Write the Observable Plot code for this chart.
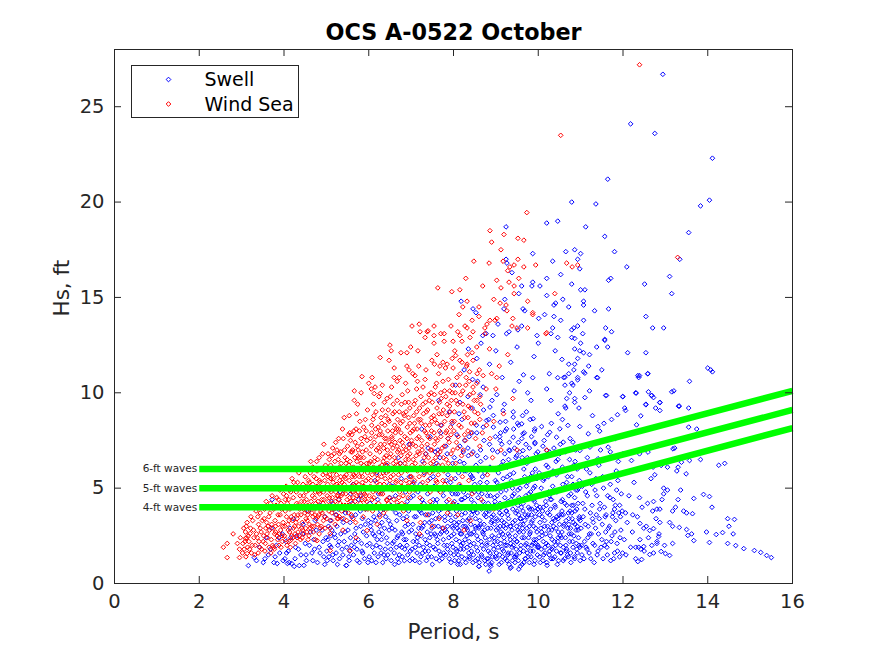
<!DOCTYPE html>
<html><head><meta charset="utf-8">
<script src="https://cdn.jsdelivr.net/npm/d3@7"></script>
<script src="https://cdn.jsdelivr.net/npm/@observablehq/plot@0.6"></script>
<style>
body{margin:0;background:#fff;}
#wrap{position:relative;width:875px;height:656px;font-family:"DejaVu Sans",sans-serif;}
#wrap svg{display:block;}
#legend{position:absolute;left:0;top:0;}
</style></head><body><div id="wrap"></div>
<script>
// ---------- data (Period s, Hs ft) ----------
const xTicks = [0, 2, 4, 6, 8, 10, 12, 14, 16];
const yTicks = [0, 5, 10, 15, 20, 25];
const seriesNames = ["Swell", "Wind Sea"];
const seriesColors = ["#0000ff", "#ff0000"];

const wavePeriods = [2, 9, 16];
const waveLabels = ["6-ft waves", "5-ft waves", "4-ft waves"];
const wave6ft = [6, 6, 10.1];
const wave5ft = [5, 5, 9.1];
const wave4ft = [4, 4, 8.15];

const swellPoints = [
[3.16,0.94],[3.3,1.36],[3.51,1.1],[3.72,4.4],[3.84,1.05],[3.35,1.2],[3.42,1.9],[3.58,2.4],[3.63,1.5],[3.7,2.9],[3.76,1.1],[3.82,2.0],[3.9,1.6],[3.96,2.6],
[3.55,1.3],[3.68,1.8],[3.79,1.4],[3.88,2.4],[3.98,1.2],[4.06,1.6],[4.16,2.4],[4.26,1.3],[4.34,1.8],[4.44,2.6],[4.52,1.5],[4.6,2.0],[4.68,1.2],[4.76,2.8],[4.85,1.6],[4.92,2.2],[4.96,1.0],[4.47,0.95],[4.72,1.8],[4.12,1.1],
[4.08,1.05],[4.24,0.9],[4.36,0.94],[4.02,1.3],[4.05,2.2],[4.1,1.7],[4.14,2.9],[4.18,1.05],[4.22,3.4],[4.27,1.9],[4.3,2.5],[4.4,1.5],[4.45,3.1],[4.5,2.1],[4.53,1.2],[4.58,3.8],[4.62,2.7],[4.66,1.6],[4.7,2.3],[4.74,3.3],[4.79,1.1],[4.83,1.9],[4.86,4.1],[4.9,2.8],[4.94,1.4],[4.97,3.5],[4.99,2.4],
[5.02,1.2],[5.05,3.0],[5.08,2.0],[5.12,4.3],[5.15,1.5],[5.19,2.6],[5.22,3.6],[5.26,1.0],[5.3,2.2],[5.33,4.8],[5.37,1.8],[5.4,3.2],[5.44,2.7],[5.47,0.95],[5.5,4.0],[5.53,1.4],[5.57,2.4],[5.6,3.5],[5.63,5.2],[5.66,1.9],[5.7,2.9],[5.73,1.2],[5.76,4.4],[5.8,3.8],[5.83,2.1],[5.86,1.6],[5.89,5.0],[5.92,3.1],[5.95,2.5],[5.98,1.1],[5.55,1.7],[5.28,3.9],[5.85,3.4],[5.1,2.5],[5.68,2.2],
[5.01,1.7],[5.03,2.3],[5.06,1.4],[5.09,3.3],[5.11,1.9],[5.13,2.8],[5.16,1.2],[5.18,3.9],[5.21,2.4],[5.23,1.6],[5.25,3.0],[5.27,2.0],[5.31,1.3],[5.34,2.6],[5.36,3.4],[5.39,1.5],[5.42,2.2],[5.45,3.7],[5.48,1.9],[5.51,2.8],[5.54,1.2],[5.56,3.2],[5.59,2.0],[5.61,4.2],[5.64,1.5],[5.67,2.6],[5.69,3.6],[5.72,1.8],[5.75,2.3],[5.78,1.1],[5.81,3.0],[5.84,1.7],[5.87,2.7],[5.9,1.3],[5.93,3.9],[5.96,2.0],[5.99,3.3],[5.29,4.4],[5.57,4.7],[5.82,4.6],
[6.01,1.4],[6.03,4.2],[6.06,2.8],[6.09,1.9],[6.12,3.5],[6.15,5.4],[6.17,1.1],[6.2,2.3],[6.23,4.7],[6.26,3.0],[6.29,1.6],[6.32,2.6],[6.35,3.9],[6.38,5.9],[6.41,1.3],[6.44,2.1],[6.47,3.3],[6.5,4.5],[6.52,1.8],[6.55,2.9],[6.58,5.1],[6.61,1.0],[6.64,3.7],[6.67,2.4],[6.7,4.1],[6.72,1.5],[6.75,6.3],[6.78,2.7],[6.81,3.4],[6.84,1.2],[6.87,4.8],[6.9,2.0],[6.93,3.1],[6.96,5.6],[6.98,1.7],[6.14,2.5],[6.36,1.5],[6.59,2.2],[6.83,2.3],[6.46,4.0],[6.68,1.3],[6.25,3.6],[6.91,4.3],[6.05,3.2],[6.78,1.9],
[6.02,2.1],[6.04,3.0],[6.07,1.2],[6.08,4.0],[6.1,2.6],[6.13,1.6],[6.16,3.3],[6.18,2.0],[6.21,4.4],[6.22,1.4],[6.24,2.7],[6.27,1.9],[6.28,3.8],[6.3,2.3],[6.33,1.1],[6.34,4.9],[6.37,2.9],[6.39,1.8],[6.4,3.5],[6.42,2.4],[6.45,1.5],[6.48,2.8],[6.49,5.2],[6.51,3.1],[6.53,1.2],[6.56,2.1],[6.57,3.9],[6.6,1.6],[6.62,2.8],[6.63,4.6],[6.65,1.9],[6.66,3.3],[6.69,2.5],[6.71,1.1],[6.73,3.6],[6.74,2.0],[6.77,5.5],[6.79,1.4],[6.8,2.6],[6.82,4.0],[6.85,1.8],[6.86,3.0],[6.88,2.3],[6.89,5.0],[6.92,1.5],[6.94,3.8],[6.95,2.7],[6.97,1.2],[6.99,4.5],[6.19,5.8],[6.43,6.2],[6.7,6.6],[6.52,4.1],[6.31,3.2],[6.9,3.5],
[7.01,2.8],[7.03,1.3],[7.05,4.6],[7.08,3.5],[7.1,1.9],[7.12,6.0],[7.15,2.4],[7.17,3.9],[7.2,1.1],[7.22,5.2],[7.25,2.9],[7.27,1.6],[7.3,4.2],[7.32,3.2],[7.35,6.8],[7.37,2.1],[7.4,1.4],[7.42,3.6],[7.45,5.5],[7.47,2.6],[7.5,1.0],[7.52,4.4],[7.55,3.0],[7.57,1.8],[7.6,6.3],[7.62,2.3],[7.65,3.8],[7.67,1.2],[7.7,5.0],[7.72,2.7],[7.75,4.0],[7.77,1.6],[7.8,3.3],[7.82,7.2],[7.85,2.0],[7.87,5.7],[7.9,1.3],[7.92,3.6],[7.95,2.5],[7.97,4.7],[7.99,1.9],[7.13,2.2],[7.33,1.7],[7.48,3.3],[7.58,2.5],[7.69,1.5],[7.76,2.3],[7.86,3.0],[7.94,1.1],[7.24,3.7],[7.44,2.0],[7.64,4.9],[7.84,4.3],[7.06,5.3],[7.54,6.1],
[7.02,1.8],[7.04,3.1],[7.05,2.2],[7.07,4.0],[7.09,1.2],[7.11,2.6],[7.12,3.5],[7.14,1.6],[7.16,4.8],[7.18,2.9],[7.19,2.0],[7.21,3.8],[7.23,1.4],[7.24,2.5],[7.26,4.4],[7.28,3.0],[7.29,1.9],[7.31,5.8],[7.33,2.3],[7.34,3.6],[7.36,1.2],[7.38,2.7],[7.39,4.7],[7.41,1.7],[7.43,3.2],[7.44,2.4],[7.46,4.1],[7.48,1.4],[7.49,2.9],[7.51,3.7],[7.53,1.9],[7.54,5.1],[7.56,2.6],[7.58,3.4],[7.59,1.3],[7.61,4.4],[7.63,2.1],[7.64,3.0],[7.66,1.7],[7.68,6.6],[7.69,2.6],[7.71,3.9],[7.73,1.3],[7.74,2.9],[7.76,4.6],[7.78,2.0],[7.79,3.5],[7.81,1.5],[7.83,5.4],[7.84,2.7],[7.86,1.8],[7.88,3.9],[7.89,2.4],[7.91,4.9],[7.93,1.6],[7.94,3.3],[7.96,2.1],[7.98,6.3],[7.99,2.9],[7.27,6.4],[7.57,6.9],[7.87,7.6],[7.4,7.1],[7.7,7.9],[7.97,8.4],
[7.52,5.6],[7.58,4.2],[7.63,7.0],[7.67,3.5],[7.72,6.0],[7.77,4.9],[7.8,2.8],[7.85,6.8],[7.9,3.9],[7.93,5.3],[7.97,3.0],
[8.01,1.5],[8.02,3.2],[8.04,5.5],[8.06,2.3],[8.08,7.8],[8.1,1.0],[8.11,4.1],[8.13,2.8],[8.15,6.4],[8.17,1.8],[8.19,3.6],[8.2,8.6],[8.22,2.1],[8.24,4.8],[8.26,1.3],[8.28,3.0],[8.3,5.9],[8.32,2.5],[8.34,7.1],[8.36,1.6],[8.38,3.9],[8.4,2.0],[8.42,4.4],[8.44,9.2],[8.46,1.1],[8.48,2.7],[8.5,5.2],[8.52,3.4],[8.54,1.9],[8.56,6.7],[8.58,2.3],[8.6,0.9],[8.62,4.0],[8.64,3.1],[8.66,1.5],[8.68,5.6],[8.7,2.6],[8.72,7.5],[8.74,1.2],[8.76,3.7],[8.78,2.1],[8.8,4.6],[8.82,1.7],[8.84,0.65],[8.86,6.1],[8.88,2.9],[8.9,3.5],[8.92,1.4],[8.94,8.2],[8.96,2.4],[8.98,4.3],[8.07,3.8],[8.16,2.6],[8.27,4.5],[8.37,1.4],[8.47,3.8],[8.57,1.3],[8.67,2.0],[8.77,5.0],[8.87,1.0],[8.97,3.1],[8.12,1.2],[8.33,3.3],[8.53,2.9],[8.73,2.8],[8.93,2.0],[8.23,6.9],[8.43,5.6],[8.63,9.9],[8.83,3.9],[8.18,2.0],[8.39,2.6],[8.59,4.8],[8.79,1.3],[8.99,5.4],
[8.01,2.6],[8.02,4.3],[8.03,1.2],[8.05,3.5],[8.06,1.8],[8.07,6.0],[8.09,2.9],[8.1,4.7],[8.11,1.5],[8.12,3.2],[8.14,2.2],[8.15,5.1],[8.16,1.0],[8.17,3.9],[8.19,2.6],[8.2,1.4],[8.21,4.4],[8.23,3.0],[8.24,1.8],[8.25,5.9],[8.27,2.3],[8.28,3.7],[8.29,1.1],[8.31,4.0],[8.32,1.9],[8.33,2.8],[8.35,6.7],[8.36,3.4],[8.37,2.2],[8.38,1.3],[8.4,4.9],[8.41,3.1],[8.42,1.7],[8.43,2.6],[8.45,3.8],[8.46,5.5],[8.47,1.5],[8.48,2.1],[8.49,4.2],[8.51,3.0],[8.52,1.2],[8.53,6.2],[8.55,2.5],[8.56,3.7],[8.57,1.7],[8.58,4.5],[8.6,2.9],[8.61,1.1],[8.62,3.3],[8.63,5.3],[8.65,2.2],[8.66,3.9],[8.67,1.4],[8.69,2.7],[8.7,4.3],[8.71,1.8],[8.72,3.1],[8.74,5.8],[8.75,2.4],[8.76,1.0],[8.77,3.5],[8.79,2.0],[8.8,4.9],[8.81,2.9],[8.82,1.3],[8.84,3.8],[8.85,2.3],[8.86,1.6],[8.87,4.6],[8.89,3.2],[8.9,1.1],[8.91,2.5],[8.92,7.0],[8.94,3.6],[8.95,1.8],[8.96,4.1],[8.97,2.2],[8.99,1.4],[8.26,7.5],[8.44,7.9],[8.64,7.0],[8.83,8.6],[8.13,8.9],[8.54,8.3],[8.91,9.6],[8.34,9.8],[8.71,9.1],[8.57,10.6],[8.08,1.7],[8.88,0.9],
[8.02,6.6],[8.05,4.7],[8.08,3.1],[8.12,5.8],[8.15,7.2],[8.18,4.4],[8.22,3.3],[8.25,6.3],[8.28,5.0],[8.31,2.9],[8.34,4.6],[8.37,7.7],[8.4,5.7],[8.43,3.6],[8.46,6.9],[8.49,4.8],[8.52,3.9],[8.55,7.9],[8.58,5.9],[8.61,3.0],[8.64,6.4],[8.67,4.7],[8.7,8.2],[8.73,3.6],[8.76,6.6],[8.79,5.3],[8.82,4.2],[8.85,7.3],[8.88,5.0],[8.91,3.3],[8.94,6.0],[8.97,4.5],[8.99,7.7],
[9.01,1.6],[9.02,3.4],[9.04,2.2],[9.06,5.8],[9.08,1.0],[9.1,4.2],[9.12,2.7],[9.14,7.3],[9.16,1.4],[9.18,3.0],[9.2,9.4],[9.22,2.0],[9.24,4.9],[9.26,1.2],[9.28,3.6],[9.3,6.5],[9.32,2.5],[9.34,0.8],[9.36,4.4],[9.38,1.9],[9.4,3.2],[9.42,8.1],[9.44,2.3],[9.46,5.3],[9.48,1.5],[9.5,3.8],[9.52,2.8],[9.54,0.75],[9.56,6.9],[9.58,1.8],[9.6,4.0],[9.62,2.4],[9.64,3.1],[9.66,1.1],[9.68,5.6],[9.7,2.0],[9.72,9.0],[9.74,3.5],[9.76,1.4],[9.78,4.7],[9.8,2.6],[9.82,1.7],[9.84,7.7],[9.86,3.3],[9.88,2.1],[9.9,1.0],[9.92,5.1],[9.94,2.9],[9.96,4.1],[9.98,1.5],[9.05,2.9],[9.15,1.8],[9.25,3.1],[9.35,2.1],[9.45,1.1],[9.55,4.5],[9.65,2.7],[9.75,1.9],[9.85,3.9],[9.95,2.3],[9.09,3.7],[9.19,2.4],[9.29,1.6],[9.39,5.0],[9.49,2.2],[9.59,3.4],[9.69,1.3],[9.79,3.0],[9.89,4.4],[9.99,2.0],[9.13,6.2],[9.33,5.7],[9.53,7.4],[9.73,6.3],[9.93,6.0],[9.23,8.5],[9.43,10.1],[9.63,8.8],[9.83,9.6],[9.47,1.4],
[9.01,2.8],[9.02,1.3],[9.03,4.6],[9.04,3.3],[9.05,1.9],[9.07,2.5],[9.08,5.1],[9.09,1.5],[9.1,3.0],[9.11,2.1],[9.12,4.0],[9.13,1.1],[9.14,3.6],[9.16,2.6],[9.17,5.5],[9.18,1.7],[9.19,3.2],[9.2,2.2],[9.21,4.5],[9.22,1.3],[9.23,2.9],[9.25,3.8],[9.26,2.0],[9.27,6.1],[9.28,1.5],[9.29,2.6],[9.3,3.4],[9.31,1.0],[9.32,4.2],[9.34,2.3],[9.35,3.0],[9.36,1.6],[9.37,5.4],[9.38,2.8],[9.39,1.2],[9.4,3.9],[9.41,2.0],[9.43,4.7],[9.44,1.4],[9.45,3.3],[9.46,2.5],[9.47,6.6],[9.48,1.8],[9.49,3.0],[9.5,2.2],[9.52,4.1],[9.53,1.2],[9.54,3.6],[9.55,2.7],[9.56,1.6],[9.57,5.0],[9.58,3.1],[9.59,2.0],[9.61,4.4],[9.62,1.0],[9.63,2.9],[9.64,3.8],[9.65,1.7],[9.66,6.0],[9.67,2.4],[9.68,3.3],[9.7,1.3],[9.71,4.6],[9.72,2.1],[9.73,2.9],[9.74,1.6],[9.75,5.3],[9.76,3.6],[9.77,2.4],[9.79,1.1],[9.8,3.9],[9.81,2.7],[9.82,4.8],[9.83,1.4],[9.84,3.2],[9.85,2.0],[9.86,5.8],[9.88,1.7],[9.89,3.0],[9.9,2.3],[9.91,4.3],[9.92,1.2],[9.93,3.5],[9.94,2.1],[9.95,6.8],[9.97,2.7],[9.98,1.9],[9.99,3.9],[9.11,7.9],[9.31,7.0],[9.51,8.4],[9.71,7.3],[9.91,8.0],[9.21,6.8],[9.41,9.0],[9.61,7.6],[9.81,8.6],[9.36,0.85],[9.58,0.9],[9.02,9.9],
[9.02,5.3],[9.04,6.9],[9.07,3.9],[9.09,7.7],[9.12,4.8],[9.14,3.3],[9.17,6.4],[9.19,5.1],[9.22,8.0],[9.24,3.8],[9.27,5.6],[9.29,4.3],[9.32,7.4],[9.34,3.0],[9.37,6.2],[9.39,4.6],[9.42,5.8],[9.44,7.1],[9.47,3.7],[9.49,6.7],[9.52,4.9],[9.54,8.3],[9.57,3.4],[9.59,5.4],[9.62,6.6],[9.64,4.2],[9.67,7.9],[9.69,3.6],[9.72,5.1],[9.74,6.6],[9.77,4.0],[9.79,7.1],[9.82,5.6],[9.84,3.6],[9.87,6.5],[9.89,5.0],[9.92,7.4],[9.94,3.8],[9.97,5.5],[9.99,6.9],
[10.01,1.9],[10.03,3.6],[10.05,1.1],[10.07,5.0],[10.09,2.5],[10.11,7.2],[10.13,1.5],[10.15,3.0],[10.17,4.3],[10.19,2.1],[10.21,0.95],[10.23,6.1],[10.25,2.8],[10.27,1.7],[10.29,3.9],[10.31,8.4],[10.33,2.3],[10.35,1.3],[10.37,4.8],[10.39,3.3],[10.41,2.0],[10.43,5.7],[10.45,1.0],[10.47,2.7],[10.49,3.6],[10.51,6.8],[10.53,1.6],[10.55,2.4],[10.57,4.4],[10.59,1.2],[10.61,3.1],[10.63,9.3],[10.65,2.0],[10.67,5.3],[10.69,1.5],[10.71,3.7],[10.73,2.6],[10.75,7.6],[10.77,1.1],[10.79,4.1],[10.81,2.2],[10.83,3.2],[10.85,1.4],[10.87,6.4],[10.89,2.8],[10.91,1.8],[10.93,4.9],[10.95,2.4],[10.97,3.5],[10.99,1.2],[10.06,2.9],[10.16,1.9],[10.26,4.6],[10.36,3.0],[10.46,2.2],[10.56,3.8],[10.66,1.7],[10.76,2.9],[10.86,4.5],[10.96,2.0],[10.12,4.0],[10.32,1.8],[10.52,2.5],[10.72,3.4],[10.92,3.0],
[10.02,2.4],[10.03,1.4],[10.04,3.2],[10.06,4.6],[10.07,1.8],[10.08,2.7],[10.1,3.8],[10.11,1.2],[10.12,2.2],[10.14,5.5],[10.15,3.3],[10.16,1.6],[10.18,2.6],[10.19,4.1],[10.2,1.1],[10.22,3.0],[10.23,2.0],[10.24,4.8],[10.26,1.5],[10.27,3.6],[10.28,2.5],[10.3,1.3],[10.31,4.4],[10.32,2.8],[10.34,1.9],[10.35,5.9],[10.36,3.4],[10.38,2.2],[10.39,1.4],[10.4,4.0],[10.42,2.9],[10.43,1.7],[10.44,3.5],[10.46,6.5],[10.47,2.4],[10.48,1.2],[10.5,3.1],[10.51,4.9],[10.52,2.0],[10.54,1.6],[10.55,3.6],[10.56,2.7],[10.58,5.2],[10.59,1.9],[10.6,3.0],[10.62,1.3],[10.63,4.2],[10.64,2.4],[10.66,3.3],[10.67,1.8],[10.68,6.0],[10.7,2.9],[10.71,1.4],[10.72,4.6],[10.74,2.2],[10.75,3.8],[10.76,1.6],[10.78,2.6],[10.79,5.6],[10.8,3.4],[10.82,1.9],[10.83,4.1],[10.84,2.5],[10.86,1.3],[10.87,3.1],[10.88,7.0],[10.9,2.1],[10.91,3.9],[10.92,1.6],[10.94,2.8],[10.95,5.0],[10.96,3.4],[10.98,1.9],[10.22,7.8],[10.57,8.6],
[10.02,5.8],[10.04,4.0],[10.07,6.6],[10.09,3.5],[10.12,5.4],[10.14,7.5],[10.17,4.7],[10.19,6.2],[10.22,3.7],[10.24,5.6],[10.27,6.9],[10.29,4.4],[10.32,3.2],[10.34,5.1],[10.37,7.1],[10.39,4.1],[10.42,6.4],[10.44,4.8],[10.47,3.4],[10.49,5.9],[10.52,7.3],[10.54,4.3],[10.57,6.1],[10.59,3.6],[10.62,5.0],[10.64,6.9],[10.67,4.1],[10.69,5.6],[10.72,3.1],[10.74,6.5],[10.77,4.7],[10.79,3.7],[10.82,5.2],[10.84,6.2],[10.87,3.8],[10.89,4.9],[10.92,6.0],[10.94,4.2],[10.97,5.4],[10.99,3.3],
[11.02,2.0],[11.05,4.2],[11.08,1.3],[11.11,3.1],[11.14,6.0],[11.17,2.4],[11.2,1.6],[11.23,3.7],[11.26,5.2],[11.29,2.1],[11.32,1.1],[11.35,2.9],[11.38,4.6],[11.41,1.7],[11.44,3.4],[11.47,7.0],[11.5,2.3],[11.53,1.3],[11.56,4.0],[11.59,2.7],[11.62,1.9],[11.65,5.6],[11.68,3.0],[11.71,1.2],[11.74,2.5],[11.77,4.4],[11.8,1.6],[11.83,3.3],[11.86,2.1],[11.89,6.4],[11.92,1.4],[11.95,2.8],[11.98,3.8],[11.13,1.9],[11.37,3.6],[11.61,2.2],[11.85,4.9],[11.25,2.6],
[11.01,2.9],[11.03,1.5],[11.06,3.5],[11.09,2.2],[11.12,4.8],[11.15,1.8],[11.18,3.0],[11.21,2.6],[11.24,1.3],[11.27,4.1],[11.3,3.2],[11.33,2.0],[11.36,5.5],[11.39,1.5],[11.42,2.6],[11.45,3.9],[11.48,1.9],[11.51,3.1],[11.54,5.0],[11.57,2.0],[11.6,3.6],[11.63,1.5],[11.66,2.9],[11.69,4.5],[11.72,2.2],[11.75,3.5],[11.78,1.3],[11.81,2.7],[11.84,5.9],[11.87,1.7],[11.9,3.7],[11.93,2.4],[11.96,4.7],[11.99,1.6],[11.16,6.6],[11.43,6.2],[11.7,6.9],[11.28,8.8],[11.55,8.4],[11.82,7.6],
[11.04,5.1],[11.1,3.9],[11.16,4.6],[11.22,5.8],[11.28,3.4],[11.34,4.9],[11.4,6.4],[11.46,4.2],[11.52,5.6],[11.58,3.5],[11.64,4.6],[11.7,5.2],[11.76,3.7],[11.82,4.1],[11.88,5.4],[11.94,3.5],
[12.03,2.3],[12.07,1.5],[12.1,3.2],[12.14,4.6],[12.18,1.9],[12.22,2.7],[12.26,5.3],[12.3,1.3],[12.34,3.5],[12.4,2.3],[12.45,4.0],[12.5,1.7],[12.55,3.0],[12.6,2.4],[12.66,5.5],[12.72,1.6],[12.78,3.4],[12.85,2.6],[12.92,4.4],[12.98,2.0],
[7.7,8.3],[7.9,9.0],[8.05,10.4],[8.25,11.2],[8.45,10.7],[8.55,11.8],[8.7,10.3],[8.85,11.5],[9.0,12.2],[9.15,10.8],[9.35,11.6],[9.5,12.4],[9.25,13.1],[9.05,13.6],[8.65,12.6],[8.35,12.3],[9.55,10.6],[9.9,11.9],[10.2,10.2],[10.4,12.2],[10.0,12.6],[10.3,9.6],[9.75,10.0],[8.15,9.5],[7.45,7.7],[7.25,8.1],[6.95,7.3],[7.65,9.6],
[12.94,26.7],[12.18,24.1],[12.75,23.6],[14.11,22.3],[11.64,21.2],[10.79,20.0],[11.36,19.9],[13.83,19.8],[14.04,20.1],[10.2,18.9],[10.46,19.0],[9.24,18.7],[11.12,18.7],[13.55,18.4],[11.57,18.2],[11.8,17.4],[9.87,17.3],[10.34,16.9],[10.65,17.4],[10.86,17.5],[11.0,17.3],[10.93,17.0],[10.98,16.5],[12.09,16.6],[9.24,17.0],[9.26,16.8],[9.38,16.3],[13.34,17.0],[12.51,15.7],[13.1,16.1],[13.15,15.2],[9.87,15.8],[9.85,15.6],[10.04,15.6],[10.2,16.0],[10.53,16.2],[10.79,15.7],[11.0,15.4],[11.1,15.4],[11.66,15.9],[11.71,16.0],[12.54,14.0],[12.7,13.4],[12.96,13.4],
[9.61,15.6],[9.54,15.2],[9.21,14.9],[8.18,14.8],[8.46,14.4],[8.53,14.2],[9.19,14.4],[9.64,14.4],[9.68,14.3],[10.2,15.1],[10.58,14.9],[10.37,14.6],[10.41,14.7],[10.72,14.5],[11.07,14.8],[11.07,14.6],[11.33,14.3],[11.66,14.4],[11.07,13.8],[10.84,13.4],[10.93,13.5],[11.05,13.1],[11.59,13.4],[11.73,13.2],[11.57,12.8],[10.53,13.8],[10.37,14.0],[10.34,13.4],[10.15,14.1],[10.01,13.9],[9.97,13.0],[10.3,13.1],[10.46,12.9],[10.79,12.9],[9.61,13.5],[9.52,13.3],[9.31,13.2],[8.93,13.0],[8.77,13.1],[8.69,13.0],
[11.0,12.6],[11.57,12.75],[11.38,12.4],[11.64,12.4],[12.11,12.1],[12.54,12.1],[10.86,12.3],[10.98,12.2],[11.07,12.1],[10.93,11.8],[11.21,12.0],[10.79,13.3],[10.86,12.85],
[10.56,11.75],[10.72,11.5],[10.86,11.5],[11.19,11.4],[11.07,11.1],[10.84,11.2],[10.72,11.0],[10.93,10.8],[10.6,10.8],[11.5,11.2],[11.38,10.8],[12.39,10.9],[12.37,10.8],[12.58,11.0],[13.57,10.6],[14.0,11.3],[14.07,11.2],[14.11,11.1],[13.2,10.1],[12.3,10.0],[12.6,10.05],[11.99,9.8],[11.59,9.86],[11.1,9.75],[11.21,10.1],[10.79,10.5],[10.82,10.4],[10.63,10.4],[10.74,10.0],[10.67,9.7],[10.86,9.7],[10.86,9.5],[10.65,9.2],[10.96,9.2],[12.04,9.2],[12.77,9.2],[12.87,9.5],[12.72,9.75],[12.68,9.86],[12.54,9.4],[13.31,9.3],[13.55,9.2],
[9.65,10.94],[9.87,10.79],[10.26,11.0],[10.46,10.79],[10.63,10.82],[10.93,10.68],[11.1,11.03],[11.4,10.79],[12.35,10.9],[12.59,11.0],[11.61,9.86],[12.0,9.8],[12.31,9.98],[12.54,9.37],[12.67,9.86],[12.87,9.48],[12.87,9.07],[12.42,8.79],[12.32,8.32],[11.87,8.85],[12.06,9.07],[11.73,8.6],[11.41,8.23],[11.45,7.99],[11.18,7.85],[10.98,8.23],[10.7,8.29],[10.47,8.9],[10.51,8.11],[10.27,7.93],[10.08,8.23],[9.88,8.64],[9.61,8.37],[9.41,8.72],[9.17,9.07],[8.86,9.25],[8.94,8.81],[8.78,8.55],[9.1,8.46],[9.25,8.11],[9.64,7.85],[9.92,8.11],[9.41,7.67],[9.1,7.5],[9.33,6.97],[9.64,6.97],[9.92,7.33],[10.2,6.97],[10.43,7.67],[10.59,7.41],[10.82,7.41],[10.98,6.97],[11.22,7.15],[11.41,6.54],[11.65,7.15],[11.77,6.62],[12.0,6.8],[12.2,6.45],[12.39,6.8],[12.59,6.89],[12.71,6.1],[12.9,6.19],[13.18,7.06],[13.18,6.45],[13.38,6.36],[13.49,5.75],
[13.15,10.05],[13.74,8.1],[12.87,3.9],[12.7,3.8],[12.23,3.6],[12.06,3.7],[12.39,4.5],[11.92,4.1],[11.8,3.9],
[15.5,1.36],[15.39,1.47],[15.25,1.63],[15.1,1.73],[14.85,1.83],[14.66,1.99],[14.47,2.1],[14.6,2.6],[14.5,3.0],[14.63,3.36],[14.47,3.4],[14.35,2.67],[14.2,2.57],[14.04,2.15],[13.97,2.7],[14.1,4.0],[13.9,4.67],[14.04,4.56],[13.67,4.46],[14.26,6.2],[14.4,6.3],[13.83,6.5],[13.57,6.45],[13.33,9.3],[13.55,8.2],[13.22,7.1],[13.27,5.9],[13.3,6.1],[13.05,6.1],[12.75,5.7],[13.36,4.9],[12.96,5.0],[13.05,4.9],[12.96,4.7],[13.3,4.4],[12.8,3.9],[13.17,3.8],[13.24,4.0],[13.43,3.8],[13.5,3.7],[13.64,3.66],[12.87,3.2],[13.1,3.2],[13.17,3.0],[13.33,2.94],[13.5,2.83],[13.53,2.52],[13.62,2.6],[13.67,2.25],[13.17,2.1],[12.84,2.46],[12.9,1.68],[13.0,1.57],[13.1,1.47],[12.63,1.52],[12.35,1.15],[12.44,1.26],[12.72,2.88],[12.63,2.78],[12.49,2.9],[12.4,3.15],[12.58,4.2],[12.72,4.3],[12.8,2.2],[12.8,2.1],[12.68,2.0],[12.49,1.94],[12.37,1.9],[12.3,1.9],[12.42,1.8],[8.6,0.9],[5.47,0.94]
];

const windSeaPoints = [
[2.57,1.9],[2.66,2.1],[2.66,1.36],[2.9,2.1],[2.95,1.8],[2.95,1.36],[2.97,2.4],[2.8,2.6],[3.13,1.57],[3.09,2.36],[3.2,2.62],
[3.02,1.6],[3.05,2.9],[3.08,2.2],[3.1,1.4],[3.13,3.2],[3.16,2.5],[3.19,1.8],[3.22,3.5],[3.25,2.0],[3.28,2.8],[3.31,1.5],[3.34,3.8],[3.37,2.4],[3.4,3.1],[3.43,1.9],[3.46,2.7],[3.48,4.0],[3.39,1.6],[3.12,2.4],
[3.03,2.1],[3.06,1.8],[3.09,2.7],[3.11,3.0],[3.14,1.9],[3.17,2.2],[3.21,2.9],[3.23,1.6],[3.26,3.3],[3.29,2.4],[3.32,2.0],[3.35,2.6],[3.38,3.5],[3.41,2.2],[3.44,2.9],[3.47,1.8],[3.49,3.3],[3.52,2.5],[3.54,3.9],[3.56,2.1],[3.59,3.2],[3.61,2.4],[3.64,3.5],[3.66,2.8],[3.68,4.2],[3.71,3.1],[3.73,2.0],[3.76,3.9],[3.78,2.6],[3.8,3.0],[3.83,4.5],[3.85,2.3],[3.87,3.1],[3.89,2.6],[3.91,3.6],[3.93,4.2],[3.95,2.5],[3.97,3.0],[3.99,4.7],[3.44,3.7],
[3.51,2.2],[3.53,3.4],[3.55,1.7],[3.58,4.3],[3.6,2.6],[3.62,3.0],[3.65,1.9],[3.67,3.7],[3.7,2.3],[3.72,4.6],[3.74,2.9],[3.77,1.8],[3.79,3.3],[3.81,4.1],[3.84,2.5],[3.86,3.6],[3.88,2.0],[3.9,4.9],[3.92,2.8],[3.94,3.9],[3.96,2.2],[3.98,3.2],[3.57,2.9],[3.69,1.6],[3.8,2.7],[3.93,1.9],[3.63,4.0],[3.87,4.4],[3.75,1.9],
[4.01,2.5],[4.03,3.8],[4.05,5.1],[4.07,2.0],[4.09,3.1],[4.11,4.4],[4.13,2.7],[4.15,1.9],[4.17,3.5],[4.19,5.5],[4.21,2.4],[4.23,4.0],[4.25,3.0],[4.27,2.1],[4.29,4.8],[4.31,3.4],[4.33,2.7],[4.35,5.8],[4.37,3.9],[4.39,2.3],[4.41,4.3],[4.43,3.2],[4.45,5.2],[4.47,2.6],[4.49,3.7],[4.12,3.3],[4.22,2.9],[4.32,4.1],[4.42,2.9],[4.06,4.6],[4.26,5.0],[4.46,4.6],[4.15,2.25],[4.31,2.4],
[4.02,3.0],[4.04,2.3],[4.06,3.5],[4.08,4.2],[4.1,2.8],[4.12,2.2],[4.14,3.9],[4.16,4.8],[4.18,2.5],[4.2,3.3],[4.22,4.5],[4.24,3.6],[4.26,2.6],[4.28,3.2],[4.3,4.2],[4.32,5.3],[4.34,3.0],[4.36,2.5],[4.38,4.6],[4.4,3.6],[4.42,5.0],[4.44,2.8],[4.46,3.9],[4.48,4.3],[4.5,5.6],[4.52,3.4],[4.54,2.7],[4.56,4.1],[4.58,4.9],[4.6,3.1],[4.62,5.8],[4.64,4.3],[4.66,3.7],[4.68,5.2],[4.7,3.0],[4.72,4.0],[4.74,4.8],[4.76,3.4],[4.78,5.9],[4.8,4.3],[4.82,3.6],[4.84,5.4],[4.86,2.9],[4.88,4.9],[4.9,3.7],[4.92,5.7],[4.94,4.4],[4.96,3.5],[4.98,6.2],[4.03,4.4],[4.23,5.3],[4.43,2.4],[4.63,6.4],[4.83,6.6],[4.13,4.9],[4.33,3.6],[4.53,5.1],[4.73,3.9],[4.93,4.8],[4.57,2.3],
[4.51,2.9],[4.53,4.4],[4.55,3.3],[4.57,6.0],[4.59,2.5],[4.61,3.9],[4.63,5.0],[4.65,3.0],[4.67,4.6],[4.69,2.7],[4.71,5.6],[4.73,3.6],[4.75,4.2],[4.77,6.4],[4.79,3.1],[4.81,4.8],[4.83,2.6],[4.85,5.3],[4.87,3.8],[4.89,4.4],[4.91,6.8],[4.93,3.3],[4.95,5.0],[4.97,2.9],[4.99,4.0],[4.58,5.4],[4.68,3.5],[4.78,5.1],[4.88,3.0],[4.98,5.8],[4.54,3.8],[4.74,2.3],[4.84,4.0],[4.94,7.3],[4.62,2.9],[4.78,2.25],
[4.52,4.8],[4.56,3.6],[4.6,5.3],[4.64,4.0],[4.68,6.1],[4.72,4.5],[4.76,5.5],[4.8,3.5],[4.84,4.7],[4.88,6.0],[4.92,4.2],[4.96,5.4],
[5.01,3.4],[5.03,5.2],[5.05,4.3],[5.07,6.5],[5.09,2.9],[5.11,4.8],[5.13,3.7],[5.15,7.1],[5.17,5.5],[5.19,4.0],[5.21,3.1],[5.23,6.0],[5.25,4.6],[5.27,5.1],[5.29,7.6],[5.31,3.5],[5.33,4.2],[5.35,6.3],[5.37,5.3],[5.39,2.8],[5.41,4.9],[5.43,7.0],[5.45,3.9],[5.47,5.7],[5.49,4.4],[5.04,4.0],[5.14,5.9],[5.24,3.6],[5.34,5.6],[5.44,6.6],[5.08,5.7],[5.18,6.8],[5.28,4.0],[5.38,8.1],[5.48,3.3],[5.42,8.7],[5.09,2.62],[5.28,3.4],[5.09,1.73],
[5.02,4.6],[5.04,5.6],[5.06,3.8],[5.08,4.9],[5.1,6.2],[5.12,3.3],[5.14,4.5],[5.16,5.3],[5.18,3.9],[5.2,6.4],[5.22,4.8],[5.24,5.7],[5.26,3.4],[5.28,6.5],[5.3,4.4],[5.32,5.4],[5.34,6.9],[5.36,3.8],[5.38,4.7],[5.4,6.0],[5.42,5.2],[5.44,4.1],[5.46,6.3],[5.48,5.0],[5.5,7.2],[5.52,3.7],[5.54,5.4],[5.56,6.4],[5.58,4.3],[5.6,7.8],[5.62,5.1],[5.64,6.1],[5.66,4.0],[5.68,7.4],[5.7,5.8],[5.72,4.6],[5.74,6.7],[5.76,5.2],[5.78,8.0],[5.8,4.2],[5.82,6.3],[5.84,7.3],[5.86,5.0],[5.88,6.6],[5.9,4.7],[5.92,8.6],[5.94,5.4],[5.96,7.5],[5.98,6.1],[5.05,6.0],[5.15,4.2],[5.25,7.0],[5.35,4.6],[5.45,5.5],[5.55,7.9],[5.65,5.7],[5.75,7.0],[5.85,5.6],[5.95,4.3],[5.11,5.5],[5.21,4.3],[5.31,6.1],[5.41,3.4],[5.51,5.9],[5.61,4.8],[5.71,8.9],[5.81,6.6],[5.91,3.9],[5.63,3.4],[5.87,4.8],
[5.01,5.0],[5.04,6.8],[5.07,4.5],[5.1,5.5],[5.13,6.7],[5.16,4.0],[5.19,5.9],[5.22,7.4],[5.25,5.2],[5.28,4.6],[5.31,6.8],[5.34,5.0],[5.37,4.1],[5.4,7.6],[5.43,5.6],[5.46,4.7],[5.49,6.5],[5.52,7.8],[5.55,4.5],[5.58,5.9],[5.61,6.9],[5.64,4.8],[5.67,5.6],[5.7,8.1],[5.73,5.0],[5.76,6.6],[5.79,4.6],[5.82,7.6],[5.85,5.3],[5.88,6.2],[5.91,4.4],[5.94,8.0],[5.97,5.8],
[5.51,4.1],[5.53,6.2],[5.55,5.0],[5.57,7.5],[5.59,3.6],[5.61,5.6],[5.63,4.5],[5.65,8.0],[5.67,6.6],[5.69,3.2],[5.71,5.3],[5.73,7.2],[5.75,4.8],[5.77,6.0],[5.79,8.5],[5.81,4.0],[5.83,5.8],[5.85,6.9],[5.87,3.5],[5.89,5.1],[5.91,7.7],[5.93,4.6],[5.95,6.3],[5.97,9.1],[5.99,5.5],[5.54,8.8],[5.64,5.2],[5.74,9.4],[5.84,4.4],[5.94,7.0],[5.58,6.9],[5.68,4.3],[5.78,5.6],[5.88,8.2],[5.98,3.9],[5.62,7.0],[5.72,6.4],[5.82,10.0],[5.92,6.0],[5.66,9.6],[5.96,2.78],[5.56,1.73],[5.7,2.4],
[6.01,4.6],[6.03,6.8],[6.05,5.4],[6.07,8.3],[6.09,3.8],[6.11,6.1],[6.13,7.4],[6.15,4.9],[6.17,9.0],[6.19,5.7],[6.21,6.5],[6.23,4.2],[6.25,7.8],[6.27,5.2],[6.29,8.7],[6.31,6.2],[6.33,4.7],[6.35,7.1],[6.37,9.5],[6.39,5.5],[6.41,6.7],[6.43,3.9],[6.45,8.0],[6.47,5.9],[6.49,7.4],[6.04,7.6],[6.14,5.9],[6.24,9.8],[6.34,5.0],[6.44,6.3],[6.08,4.4],[6.18,7.0],[6.28,6.0],[6.38,8.3],[6.48,4.5],[6.12,8.8],[6.22,5.0],[6.32,10.4],[6.42,7.6],[6.06,10.2],[6.26,3.5],[6.46,9.1],[6.2,3.1],[6.43,4.35],
[6.02,5.0],[6.04,6.4],[6.06,7.2],[6.08,5.7],[6.1,8.6],[6.12,4.5],[6.14,6.6],[6.16,7.7],[6.18,5.3],[6.2,6.0],[6.22,8.2],[6.24,4.8],[6.26,6.9],[6.28,7.3],[6.3,5.6],[6.32,9.1],[6.34,6.4],[6.36,5.2],[6.38,7.6],[6.4,8.8],[6.42,4.4],[6.44,7.0],[6.46,6.0],[6.48,8.5],[6.5,5.4],[6.52,6.8],[6.54,7.7],[6.56,4.9],[6.58,9.4],[6.6,6.1],[6.62,7.4],[6.64,5.3],[6.66,8.1],[6.68,6.9],[6.7,5.7],[6.72,9.0],[6.74,6.3],[6.76,7.9],[6.78,5.1],[6.8,8.5],[6.82,7.2],[6.84,6.0],[6.86,9.5],[6.88,5.4],[6.9,7.6],[6.92,6.7],[6.94,8.7],[6.96,4.8],[6.98,7.3],[6.07,6.0],[6.17,4.1],[6.27,8.0],[6.37,6.6],[6.47,4.2],[6.57,7.1],[6.67,5.0],[6.77,9.4],[6.87,6.5],[6.97,8.4],[6.11,9.4],[6.31,7.8],[6.51,9.8],[6.71,4.5],[6.91,5.9],[6.21,5.5],[6.41,5.8],[6.61,8.3],[6.81,4.6],[6.35,3.7],[6.85,4.1],
[6.01,6.3],[6.04,5.1],[6.07,7.9],[6.1,4.8],[6.13,6.4],[6.16,8.1],[6.19,5.0],[6.22,7.1],[6.25,6.1],[6.28,4.7],[6.31,8.4],[6.34,5.8],[6.37,7.3],[6.4,6.2],[6.43,5.0],[6.46,8.6],[6.49,6.6],[6.52,5.6],[6.55,7.6],[6.58,6.3],[6.61,9.0],[6.64,5.0],[6.67,7.2],[6.7,8.1],[6.73,6.1],[6.76,5.3],[6.79,7.4],[6.82,8.9],[6.85,6.3],[6.88,7.0],[6.91,5.1],[6.94,9.5],[6.97,6.8],
[6.51,5.1],[6.53,7.3],[6.55,6.0],[6.57,8.9],[6.59,4.4],[6.61,6.6],[6.63,7.9],[6.65,5.4],[6.67,9.6],[6.69,6.2],[6.71,7.0],[6.73,4.8],[6.75,8.4],[6.77,5.8],[6.79,9.9],[6.81,6.9],[6.83,5.0],[6.85,7.7],[6.87,10.5],[6.89,6.1],[6.91,8.2],[6.93,4.5],[6.95,7.1],[6.97,9.2],[6.99,5.6],[6.54,10.3],[6.64,6.4],[6.74,7.5],[6.84,8.8],[6.94,6.5],[6.58,5.7],[6.68,8.6],[6.78,4.2],[6.88,9.0],[6.98,7.9],[6.62,4.0],[6.72,10.8],[6.82,3.8],[6.92,10.1],[6.56,8.0],[6.76,6.7],[6.96,5.3],[6.9,3.3],[6.67,4.25],
[7.01,5.6],[7.03,8.0],[7.05,6.5],[7.07,9.4],[7.09,4.9],[7.11,7.2],[7.13,10.2],[7.15,5.9],[7.17,8.6],[7.19,6.8],[7.21,4.5],[7.23,9.8],[7.25,7.5],[7.27,5.3],[7.29,8.9],[7.31,6.3],[7.33,10.7],[7.35,7.9],[7.37,5.1],[7.39,9.1],[7.41,6.6],[7.43,8.3],[7.45,4.3],[7.47,10.0],[7.49,7.0],[7.04,11.0],[7.14,7.6],[7.24,4.1],[7.34,9.5],[7.44,5.8],[7.08,8.4],[7.18,11.4],[7.28,6.0],[7.38,3.6],[7.48,8.7],[7.22,3.2],[7.2,2.6],[7.5,3.0],
[7.02,6.2],[7.04,7.3],[7.06,8.8],[7.08,5.4],[7.1,9.6],[7.12,6.7],[7.14,8.1],[7.16,5.0],[7.18,7.7],[7.2,9.2],[7.22,6.1],[7.24,8.4],[7.26,7.0],[7.28,10.3],[7.3,5.7],[7.32,8.0],[7.34,6.8],[7.36,9.0],[7.38,7.3],[7.4,5.4],[7.42,9.9],[7.44,7.6],[7.46,6.3],[7.48,8.0],[7.5,9.5],[7.52,5.9],[7.54,7.9],[7.56,8.6],[7.58,6.6],[7.6,10.5],[7.62,7.5],[7.64,5.7],[7.66,8.9],[7.68,6.9],[7.7,10.0],[7.72,8.3],[7.74,6.2],[7.76,9.1],[7.78,7.2],[7.8,5.2],[7.82,9.8],[7.84,8.0],[7.86,6.0],[7.88,10.7],[7.9,7.4],[7.92,9.0],[7.94,6.8],[7.96,8.5],[7.98,10.4],[7.15,10.6],[7.35,11.2],[7.55,11.5],[7.75,11.6],[7.95,9.6],[7.45,4.8],
[7.01,7.5],[7.04,5.2],[7.07,8.1],[7.1,6.3],[7.13,9.0],[7.16,6.9],[7.19,5.6],[7.22,8.6],[7.25,7.2],[7.28,9.4],[7.31,6.6],[7.34,8.3],[7.37,5.9],[7.4,7.7],[7.43,9.6],[7.46,7.0],[7.49,8.5],[7.52,6.4],[7.55,9.9],[7.58,7.6],[7.61,8.4],[7.64,6.2],[7.67,9.5],[7.7,7.7],[7.73,8.9],[7.76,6.6],[7.79,10.1],[7.82,7.9],[7.85,8.8],[7.88,6.3],[7.91,9.3],[7.94,7.8],[7.97,10.0],
[7.51,6.1],[7.53,8.8],[7.55,7.3],[7.57,10.3],[7.59,5.4],[7.61,9.2],[7.63,6.8],[7.65,11.0],[7.67,8.0],[7.69,4.8],[7.71,9.7],[7.73,7.1],[7.75,10.6],[7.77,5.9],[7.79,8.5],[7.81,11.3],[7.83,6.5],[7.85,9.4],[7.87,7.6],[7.89,4.4],[7.91,10.1],[7.93,8.2],[7.95,5.5],[7.97,11.8],[7.99,7.0],[7.56,4.0],[7.66,3.4],[7.76,2.9],[7.86,3.7],[7.96,4.1],[7.61,5.3],[7.75,5.4],[7.99,4.2],
[8.02,9.0],[8.05,6.3],[8.08,10.8],[8.11,7.7],[8.14,5.2],[8.17,9.9],[8.2,11.6],[8.23,7.0],[8.26,8.7],[8.29,10.4],[8.32,6.0],[8.35,9.3],[8.38,11.1],[8.41,7.9],[8.44,4.7],[8.47,10.0],[8.5,8.4],[8.1,3.6],[8.25,2.8],[8.4,3.3],[8.03,12.2],[8.33,12.0],
[8.01,8.0],[8.04,10.0],[8.07,7.4],[8.1,9.4],[8.13,8.3],[8.16,11.0],[8.19,6.7],[8.22,10.1],[8.25,9.0],[8.28,7.5],[8.31,11.4],[8.34,8.0],[8.37,10.6],[8.4,9.2],[8.43,6.8],[8.46,11.7],[8.49,9.6],[8.52,7.6],[8.55,10.5],[8.58,8.9],[8.61,11.2],[8.64,9.4],[8.68,7.9],[8.21,5.6],[8.36,5.4],
[8.02,8.5],[8.06,9.6],[8.1,7.1],[8.14,10.4],[8.18,8.2],[8.22,9.4],[8.26,7.8],[8.3,10.8],[8.34,8.7],[8.38,9.9],[8.42,8.4],[8.46,10.3],[8.5,9.0],[8.56,11.0],[8.62,9.8],
[8.55,9.6],[8.62,7.2],[8.7,10.9],[8.78,8.3],[8.85,12.3],[8.92,6.6],[9.0,10.2],[9.08,11.4],[9.18,8.9],[9.28,12.0],[9.4,9.7],[8.66,4.4],[8.95,3.9],[9.15,5.1],[8.8,5.7],[9.5,7.0],
[8.9,11.0],[9.02,10.8],[8.77,10.2],[8.62,8.6],[8.95,8.5],[8.86,7.6],[9.12,7.0],[10.2,7.0],
[12.39,27.2],[10.53,23.5],[9.73,19.45],[8.86,18.5],[9.19,18.3],[8.9,17.9],[9.52,18.1],[9.66,18.0],[9.12,17.5],[8.48,16.9],[8.84,16.8],[9.17,16.9],[9.33,16.6],[9.43,16.7],[9.28,16.4],[9.52,17.0],[9.66,16.6],[9.94,16.7],[10.67,16.8],[10.8,16.6],[10.93,16.7],[13.29,17.1],[8.29,16.0],[9.02,15.9],[9.31,15.8],[9.54,16.0],[9.43,15.6],[7.63,15.5],[7.96,15.3],[8.15,15.4],[8.69,15.6],[9.12,15.5],[9.43,15.2],[9.75,14.8],[10.39,15.2],[8.32,14.8],[8.95,14.9],[9.1,14.7],[9.24,14.6],[8.6,14.5],[8.22,14.5],[8.13,14.1],[7.02,13.5],[7.19,13.6],[7.38,13.2],[7.54,13.5],[7.54,13.0],[7.21,13.2],[7.78,13.1],[7.94,13.5],[8.1,13.2],[8.32,13.4],[8.44,13.8],[8.6,14.0],[8.86,13.8],[9.02,13.9],[8.74,13.4],[9.38,13.5],[9.87,14.1],[9.75,13.4],[10.18,13.1],
[6.27,11.85],[6.5,12.5],[6.53,12.2],[6.48,11.7],[6.6,11.3],[6.76,12.1],[6.9,12.1],[6.99,12.4],[7.16,12.2],[5.84,10.85],[6.08,10.8],[6.0,10.5],[6.15,10.3],[6.13,9.96],[5.66,10.1],[6.27,9.96],[6.43,9.7],[6.6,10.8],[6.67,10.6],[6.9,11.4],[6.95,11.2],[7.09,10.9],[7.33,12.9],[7.4,13.25],[7.54,12.6],[7.7,13.1],[7.78,12.7],[7.99,12.7],[8.15,13.0],[8.2,12.7],[8.39,12.9],[8.46,13.2],[8.27,13.5],[7.49,11.7],[7.61,12.0],[7.68,11.4],[7.85,11.5],[8.05,11.95],[7.99,11.3],[8.15,11.7],[8.32,11.5],[8.44,12.1],[8.55,12.4],[8.74,13.1],[8.79,13.6],[8.98,13.8],[9.26,14.3],[9.4,13.9],[9.5,13.4],[9.87,14.2],[10.2,13.15]
];

// ---------- build ----------
const W = 875, H = 656, mT = 49, mR = 83, mB = 73, mL = 114;
const plotW = W - mL - mR, plotH = H - mT - mB;
const ink = "#262626";
const waveHeights = [wave6ft, wave5ft, wave4ft];
const waveRows = waveLabels.flatMap((label, i) => wavePeriods.map((t, j) => ({t, h: waveHeights[i][j], label})));
const tickLen = 7;
const dotR = 2.1;

const chart = Plot.plot({
  width: W, height: H,
  marginTop: mT, marginRight: mR, marginBottom: mB, marginLeft: mL,
  style: {fontFamily: "DejaVu Sans, sans-serif", color: ink, background: "#fff", overflow: "visible"},
  x: {domain: [0, 16], label: null},
  y: {domain: [0, 28], label: null},
  marks: [
    Plot.dot(swellPoints, {x: d => d[0], y: d => d[1], symbol: "diamond2", r: dotR, stroke: seriesColors[0], fill: "none", strokeWidth: 1, clip: true}),
    Plot.dot(windSeaPoints, {x: d => d[0], y: d => d[1], symbol: "diamond2", r: dotR, stroke: seriesColors[1], fill: "none", strokeWidth: 1, clip: true}),
    Plot.line(waveRows, {x: "t", y: "h", z: "label", stroke: "#00ff00", strokeWidth: 6.5, strokeLinecap: "butt", strokeLinejoin: "miter"}),
    Plot.text(waveLabels, {x: () => wavePeriods[0], y: (d, i) => waveHeights[i][0], text: d => d, textAnchor: "end", dx: -2, fontSize: 10.5, fill: ink}),
    Plot.frame({stroke: ink, strokeWidth: 1}),
    Plot.tickX(xTicks, {x: d => d, insetTop: plotH - tickLen, stroke: ink}),
    Plot.tickX(xTicks, {x: d => d, insetBottom: plotH - tickLen, stroke: ink}),
    Plot.tickY(yTicks, {y: d => d, insetRight: plotW - tickLen, stroke: ink}),
    Plot.tickY(yTicks, {y: d => d, insetLeft: plotW - tickLen, stroke: ink}),
    Plot.axisX({ticks: xTicks, tickSize: 0, tickPadding: 11, fontSize: 19.5, label: null, fill: ink}),
    Plot.axisY({ticks: yTicks, tickSize: 0, tickPadding: 10, fontSize: 19.5, label: null, fill: ink}),
    Plot.text(["Period, s"], {frameAnchor: "bottom", dy: 49, fontSize: 21.5, fill: ink, lineAnchor: "middle"}),
    Plot.text(["Hs, ft"], {frameAnchor: "left", dx: -52, rotate: -90, fontSize: 21.5, fill: ink, lineAnchor: "middle"}),
    Plot.text(["OCS A-0522 October"], {frameAnchor: "top", dy: -17, fontSize: 22.3, fontWeight: "bold", fill: "#000", lineAnchor: "middle"})
  ]
});
const wrap = document.getElementById("wrap");
wrap.appendChild(chart);

// legend overlay (MATLAB-style box, top-left inside axes)
const lg = d3.select(wrap).append("svg").attr("id", "legend").attr("width", W).attr("height", H)
  .style("pointer-events", "none").style("font-family", "DejaVu Sans, sans-serif");
const box = {x: 131.5, y: 65.5, w: 167, h: 52};
lg.append("rect").attr("x", box.x).attr("y", box.y).attr("width", box.w).attr("height", box.h)
  .attr("fill", "#fff").attr("stroke", ink).attr("stroke-width", 1);
const diamond = d3.symbol(d3.symbolDiamond2, dotR * dotR * Math.PI)();
seriesNames.forEach((name, i) => {
  const cy = box.y + 14 + i * 24.5;
  lg.append("path").attr("d", diamond).attr("transform", `translate(${box.x + 37},${cy})`)
    .attr("fill", "none").attr("stroke", seriesColors[i]).attr("stroke-width", 1);
  lg.append("text").attr("x", box.x + 73).attr("y", cy).attr("dy", "0.35em")
    .attr("font-size", 19).attr("fill", "#000").text(name);
});
</script></body></html>
